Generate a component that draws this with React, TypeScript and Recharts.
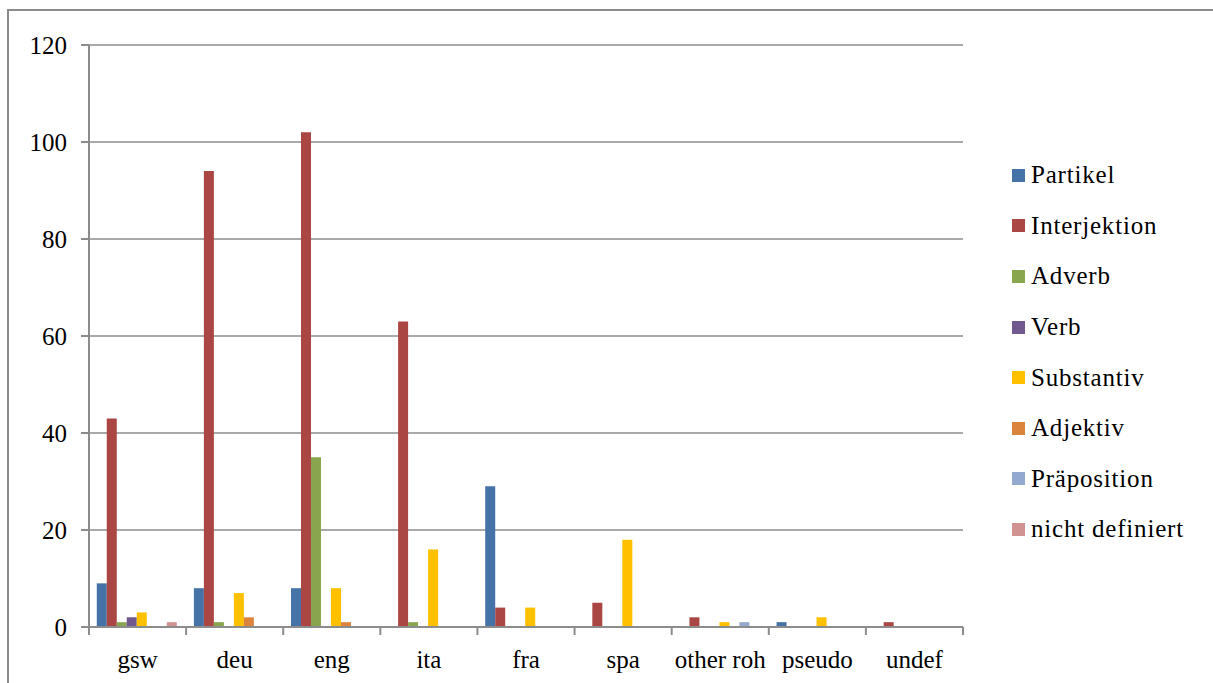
import React from "react";
import {
  BarChart,
  Bar,
  XAxis,
  YAxis,
  CartesianGrid,
  Legend,
} from "recharts";

const languages = ["gsw", "deu", "eng", "ita", "fra", "spa", "other roh", "pseudo", "undef"];

const partikel = [9, 8, 8, 0, 29, 0, 0, 1, 0];
const interjektion = [43, 94, 102, 63, 4, 5, 2, 0, 1];
const adverb = [1, 1, 35, 1, 0, 0, 0, 0, 0];
const verb = [2, 0, 0, 0, 0, 0, 0, 0, 0];
const substantiv = [3, 7, 8, 16, 4, 18, 1, 2, 0];
const adjektiv = [0, 2, 1, 0, 0, 0, 0, 0, 0];
const praeposition = [0, 0, 0, 0, 0, 0, 1, 0, 0];
const nichtDefiniert = [1, 0, 0, 0, 0, 0, 0, 0, 0];

const yTicks = [0, 20, 40, 60, 80, 100, 120];
const edgeTicks = [0, 1, 2, 3, 4, 5, 6, 7, 8, 9];

const series = [
  { key: "Partikel", values: partikel, color: "#4572A7" },
  { key: "Interjektion", values: interjektion, color: "#AA4643" },
  { key: "Adverb", values: adverb, color: "#89A54E" },
  { key: "Verb", values: verb, color: "#71588F" },
  { key: "Substantiv", values: substantiv, color: "#FFC000" },
  { key: "Adjektiv", values: adjektiv, color: "#DB843D" },
  { key: "Präposition", values: praeposition, color: "#93A9CF" },
  { key: "nicht definiert", values: nichtDefiniert, color: "#D19392" },
];

const data = languages.map((lang, i) => {
  const row: Record<string, string | number> = { lang, edge: i };
  series.forEach((s) => {
    row[s.key] = s.values[i];
  });
  return row;
});

const FONT = "'Liberation Serif', serif";
const GRAY = "#8c8c8c";

// legend in series order (recharts 3 sorts the payload by name)
function LegendBox() {
  return (
    <div style={{ fontFamily: FONT, fontSize: 25, color: "#000", letterSpacing: 0.8 }}>
      {series.map((s) => (
        <div key={s.key} style={{ height: 50.6, display: "flex", alignItems: "center" }}>
          <span
            style={{
              display: "inline-block",
              width: 13,
              height: 13,
              background: s.color,
              marginRight: 6,
            }}
          />
          <span>{s.key}</span>
        </div>
      ))}
    </div>
  );
}

export default function App() {
  return (
    <div
      style={{
        position: "absolute",
        left: 0,
        top: 0,
        width: 1213,
        height: 683,
        background: "#fff",
        overflow: "hidden",
      }}
    >
      <div
        style={{
          position: "absolute",
          left: 7,
          top: 9,
          width: 1300,
          height: 800,
          border: `2px solid ${GRAY}`,
        }}
      />
      <div style={{ position: "absolute", left: 0, top: 0 }}>
        <BarChart
          width={1213}
          height={683}
          data={data}
          margin={{ top: 45, right: 250, bottom: 0, left: 0 }}
          barCategoryGap="8%"
          barGap={0}
        >
          <CartesianGrid xAxisId="b" vertical={false} stroke={GRAY} strokeWidth={1.5} />
          {/* category edges: tick marks between the groups */}
          <XAxis
            xAxisId="a"
            dataKey="edge"
            type="number"
            domain={[0, 9]}
            ticks={edgeTicks}
            allowDataOverflow
            height={1}
            tick={() => <g />}
            tickSize={8}
            axisLine={{ stroke: GRAY, strokeWidth: 2 }}
            tickLine={{ stroke: GRAY, strokeWidth: 2 }}
          />
          <XAxis
            xAxisId="b"
            dataKey="lang"
            height={55}
            axisLine={false}
            tickLine={false}
            tickMargin={16}
            tick={{ fill: "#000", fontSize: 25, fontFamily: FONT }}
            interval={0}
          />
          <YAxis
            width={89}
            domain={[0, 120]}
            ticks={yTicks}
            tickSize={8}
            tickMargin={14}
            axisLine={{ stroke: GRAY, strokeWidth: 2 }}
            tickLine={{ stroke: GRAY, strokeWidth: 2 }}
            tick={{ fill: "#000", fontSize: 25, fontFamily: FONT }}
          />
          <Legend
            layout="vertical"
            align="center"
            verticalAlign="middle"
            content={<LegendBox />}
            wrapperStyle={{ position: "absolute", left: 1012, top: 150, width: 200 }}
          />
          {series.map((s) => (
            <Bar
              key={s.key}
              xAxisId="b"
              dataKey={s.key}
              fill={s.color}
              isAnimationActive={false}
            />
          ))}
        </BarChart>
      </div>
    </div>
  );
}
